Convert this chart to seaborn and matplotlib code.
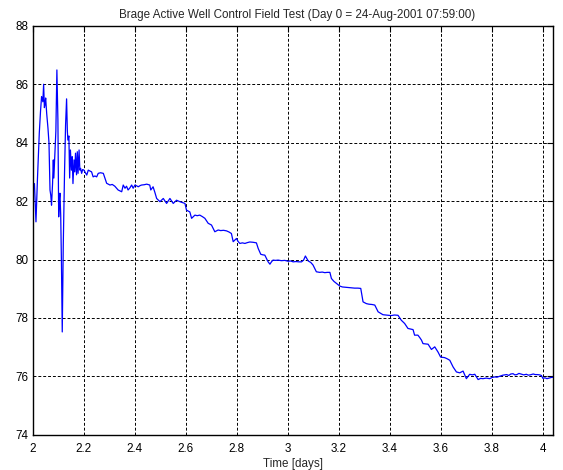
import matplotlib
matplotlib.use("Agg")
import matplotlib.pyplot as plt
import pandas as pd
import seaborn as sns

time_days = [
    2.000, 2.002, 2.007, 2.013, 2.019, 2.026, 2.031, 2.035, 2.040, 2.043, 2.046, 2.048, 2.051,
    2.055, 2.060, 2.064, 2.068, 2.071, 2.074, 2.078, 2.081, 2.083, 2.087, 2.091, 2.095, 2.099,
    2.102, 2.105, 2.107, 2.110, 2.113, 2.116, 2.120, 2.125, 2.129, 2.133, 2.136, 2.138, 2.142,
    2.145, 2.148, 2.152, 2.155, 2.158, 2.162, 2.165, 2.168, 2.172, 2.175, 2.178, 2.182, 2.185,
    2.188, 2.192, 2.196,
    2.201, 2.212, 2.218, 2.231, 2.237, 2.244, 2.251, 2.257, 2.266, 2.277, 2.290, 2.303, 2.312,
    2.322, 2.335, 2.349, 2.355, 2.362, 2.368, 2.374, 2.381, 2.388, 2.394, 2.401, 2.408, 2.414,
    2.421, 2.427, 2.437, 2.447, 2.459, 2.463, 2.472, 2.479, 2.486, 2.499, 2.506, 2.512, 2.525,
    2.531, 2.538, 2.545, 2.551, 2.564, 2.577, 2.587, 2.597, 2.603, 2.616, 2.623, 2.636, 2.645,
    2.655, 2.665, 2.675, 2.688, 2.701, 2.714, 2.727, 2.737, 2.748, 2.760, 2.770, 2.779, 2.786,
    2.792, 2.799, 2.805, 2.812, 2.822, 2.832, 2.842, 2.851, 2.864, 2.877, 2.884, 2.894, 2.902,
    2.910, 2.923, 2.930, 2.936, 2.942, 2.952, 2.962, 2.975, 2.988, 3.001, 3.011, 3.021, 3.032,
    3.043, 3.054, 3.062, 3.069, 3.080, 3.090, 3.099, 3.112, 3.125, 3.135, 3.145, 3.155, 3.165,
    3.171, 3.181, 3.191, 3.204, 3.214, 3.225, 3.236, 3.250, 3.262, 3.275, 3.286, 3.295, 3.308,
    3.318, 3.330, 3.341, 3.354, 3.365, 3.373, 3.383, 3.393, 3.405, 3.418, 3.432, 3.445, 3.458,
    3.471, 3.481, 3.491, 3.497, 3.510, 3.517, 3.524, 3.530, 3.540, 3.550, 3.563, 3.576, 3.589,
    3.599, 3.607, 3.615, 3.625, 3.635, 3.648, 3.661, 3.674, 3.687, 3.700, 3.713, 3.723, 3.733,
    3.746, 3.756, 3.765, 3.778, 3.791, 3.801, 3.811, 3.820, 3.830, 3.843, 3.858, 3.866, 3.874,
    3.883, 3.890, 3.898, 3.906, 3.914, 3.925, 3.935, 3.943, 3.950, 3.962, 3.970, 3.978, 3.987,
    3.994, 4.000, 4.008, 4.016, 4.024, 4.032, 4.039,
]
value = [
    85.70, 82.49, 82.60, 81.29, 82.80, 84.33, 85.10, 85.58, 85.40, 86.00, 85.20, 85.29, 85.53,
    85.00, 84.50, 83.99, 82.38, 82.20, 81.86, 82.60, 83.41, 82.79, 83.58, 84.40, 86.49, 84.78,
    81.46, 82.10, 82.27, 81.50, 79.80, 77.52, 80.50, 83.00, 84.60, 85.50, 84.40, 84.09, 84.23,
    82.79, 83.75, 83.06, 83.52, 82.60, 83.41, 83.00, 83.64, 82.90, 83.69, 82.95, 83.75, 83.06,
    83.12, 82.95, 83.08,
    83.06, 82.89, 83.06, 83.00, 82.83, 82.86, 82.83, 82.95, 82.97, 82.95, 82.61, 82.55, 82.57,
    82.51, 82.38, 82.32, 82.55, 82.44, 82.51, 82.38, 82.45, 82.55, 82.44, 82.55, 82.52, 82.49,
    82.53, 82.55, 82.56, 82.58, 82.55, 82.38, 82.49, 82.30, 82.09, 81.98, 82.04, 82.09, 81.92,
    82.00, 82.09, 82.00, 81.92, 82.03, 81.98, 81.95, 81.92, 81.69, 81.63, 81.41, 81.52, 81.50,
    81.52, 81.47, 81.41, 81.24, 81.18, 80.95, 81.01, 80.99, 81.00, 80.98, 80.94, 80.89, 80.61,
    80.66, 80.72, 80.62, 80.55, 80.57, 80.55, 80.58, 80.60, 80.59, 80.57, 80.38, 80.18, 80.16,
    80.15, 79.92, 79.84, 79.92, 79.98, 79.97, 79.98, 79.96, 79.97, 79.94, 79.95, 79.92, 79.93,
    79.92, 79.92, 79.98, 80.12, 79.95, 79.90, 79.81, 79.58, 79.56, 79.57, 79.55, 79.56, 79.56,
    79.35, 79.25, 79.18, 79.09, 79.06, 79.05, 79.04, 79.03, 79.02, 79.02, 79.01, 78.55, 78.49,
    78.47, 78.46, 78.44, 78.21, 78.15, 78.11, 78.10, 78.09, 78.08, 78.10, 78.09, 77.92, 77.81,
    77.64, 77.62, 77.60, 77.41, 77.41, 77.33, 77.24, 77.12, 77.11, 77.10, 76.92, 77.01, 76.83,
    76.66, 76.65, 76.64, 76.60, 76.55, 76.32, 76.15, 76.12, 76.18, 75.92, 76.07, 76.05, 76.07,
    75.89, 75.93, 75.92, 75.94, 75.92, 75.96, 75.98, 75.97, 76.00, 76.04, 76.06, 76.03, 76.08,
    76.09, 76.05, 76.06, 76.10, 76.08, 76.05, 76.07, 76.04, 76.05, 76.08, 76.06, 76.06, 76.05,
    76.03, 75.93, 75.95, 75.92, 75.94, 75.96, 75.97,
]

x_ticks = [2, 2.2, 2.4, 2.6, 2.8, 3, 3.2, 3.4, 3.6, 3.8, 4]
x_labels = ["2", "2.2", "2.4", "2.6", "2.8", "3", "3.2", "3.4", "3.6", "3.8", "4"]
y_ticks = [74, 76, 78, 80, 82, 84, 86, 88]

sns.set_style("white")
plt.rcParams["font.family"] = ["Liberation Sans", "DejaVu Sans"]

df = pd.DataFrame({"time": time_days, "value": value})

fig = plt.figure(figsize=(5.63, 4.70), dpi=100)
ax = fig.add_axes([0.058, 0.075, 0.982 - 0.058, 0.945 - 0.075])
sns.lineplot(data=df, x="time", y="value", ax=ax, color="#0000ff", linewidth=0.9, sort=False)

ax.set_xlim(2, 4.039)
ax.set_ylim(74, 88)
ax.set_xticks(x_ticks)
ax.set_xticklabels(x_labels)
ax.set_yticks(y_ticks)
ax.tick_params(direction="in", top=True, right=True, length=4, width=0.8,
               labelsize=8.4, colors="black")
ax.tick_params(axis="x", pad=6)
ax.tick_params(axis="y", pad=3)
ax.grid(True, linestyle=(0, (3, 2)), linewidth=0.7, color="black")
for spine in ax.spines.values():
    spine.set_visible(True)
    spine.set_color("black")
    spine.set_linewidth(1.0)

ax.set_xlabel("Time [days]", fontsize=8.4, labelpad=2)
ax.set_ylabel("")
ax.set_title("Brage Active Well Control Field Test (Day 0 = 24-Aug-2001 07:59:00)",
             fontsize=8.4, pad=6, x=0.508)

fig.savefig("out.png", dpi=100)
